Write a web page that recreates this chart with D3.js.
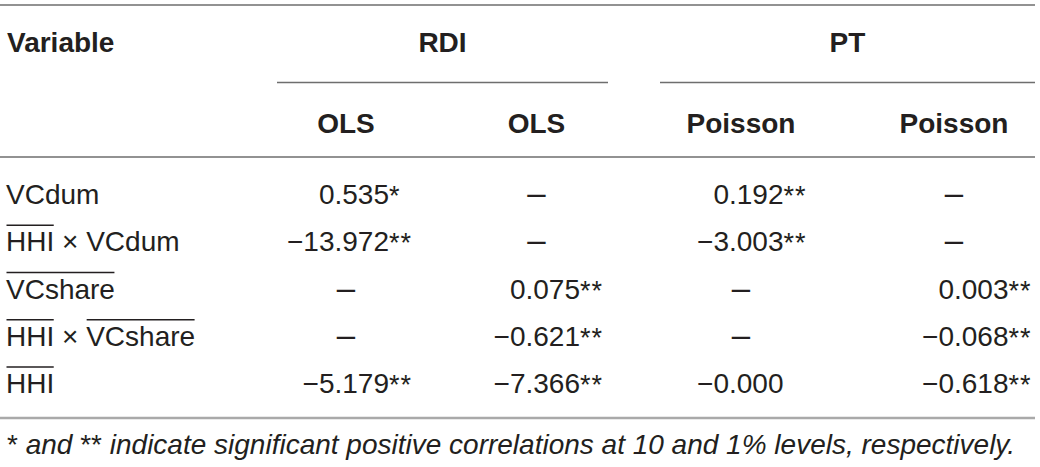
<!DOCTYPE html>
<html>
<head>
<meta charset="utf-8">
<script src="https://cdn.jsdelivr.net/npm/d3@7"></script>
<style>
  body { margin: 0; background: #fff; }
  svg text { font-family: "Liberation Sans", Arial, Helvetica, sans-serif; fill: #231f20; }
</style>
</head>
<body>
<div class="table"></div>
<script>
// header content
const stubTitle = 'Variable';
const groups = ['RDI', 'PT'];
const models = ['OLS', 'OLS', 'Poisson', 'Poisson'];
const modelGroup = ['RDI', 'RDI', 'PT', 'PT'];

// row labels, each piece: [text, overlined]
const variables = [
  [['VCdum', false]],
  [['HHI', true], [' × ', false], ['VCdum', false]],
  [['VCshare', true]],
  [['HHI', true], [' × ', false], ['VCshare', true]],
  [['HHI', true]]
];

// coefficients per model column (null = variable not in model)
const rdiOls1 = [0.535, -13.972, null, null, -5.179];
const rdiOls2 = [null, null, 0.075, -0.621, -7.366];
const ptPoisson1 = [0.192, -3.003, null, null, -0.000];
const ptPoisson2 = [null, null, 0.003, -0.068, -0.618];

// number of significance stars per cell
const rdiOls1Stars = [1, 2, 0, 0, 2];
const rdiOls2Stars = [0, 0, 2, 2, 2];
const ptPoisson1Stars = [2, 2, 0, 0, 0];
const ptPoisson2Stars = [0, 0, 2, 2, 2];

// footnote pieces: [text, isStar]
const note = [
  ['*', true],
  [' and ', false],
  ['**', true],
  [' indicate significant positive correlations at 10 and 1% levels, respectively.', false]
];

const columns = [rdiOls1, rdiOls2, ptPoisson1, ptPoisson2];
const stars = [rdiOls1Stars, rdiOls2Stars, ptPoisson1Stars, ptPoisson2Stars];

const dims = { width: 1040, height: 467, ruleEnd: 1035, fontSize: 28 };

const svg = d3.select('.table')
  .append('svg')
  .attr('width', dims.width)
  .attr('height', dims.height);

// layout scales
const colCenter = d3.scaleOrdinal()
  .domain(d3.range(models.length))
  .range([346, 536.5, 741, 954]);
const colDecimal = d3.scaleOrdinal()
  .domain(d3.range(models.length))
  .range([334.5, 525.5, 729, 954]);
const groupSpan = d3.scaleOrdinal()
  .domain(groups)
  .range([[277, 608], [660, dims.ruleEnd]]);
const y = d3.scalePoint()
  .domain(d3.range(variables.length))
  .range([204, 393]);

const fmt = d3.format('.3f');
const fmtNum = v => ((v < 0 || Object.is(v, -0)) ? '\u2212' : '') + fmt(Math.abs(v));

// horizontal rules
const rule = (x1, x2, yy, color, w) => svg.append('line')
  .attr('x1', x1).attr('x2', x2)
  .attr('y1', yy).attr('y2', yy)
  .attr('stroke', color)
  .attr('stroke-width', w);

rule(0, dims.ruleEnd, 5, '#6e6e6e', 1.5);
rule(0, dims.ruleEnd, 157, '#6e6e6e', 1.5);
rule(0, dims.ruleEnd, 418, '#a9a9a9', 2.5);
groups.forEach(g => {
  const [a, b] = groupSpan(g);
  rule(a, b, 82.5, '#6e6e6e', 1.5);
});

// header
const header = svg.append('g')
  .attr('font-size', dims.fontSize)
  .attr('font-weight', 'bold');

header.append('text')
  .attr('x', 7)
  .attr('y', 52)
  .text(stubTitle);

header.selectAll('text.group')
  .data(groups)
  .join('text')
  .attr('class', 'group')
  .attr('x', d => d3.mean(groupSpan(d)))
  .attr('y', 52)
  .attr('text-anchor', 'middle')
  .text(d => d);

header.selectAll('text.model')
  .data(models)
  .join('text')
  .attr('class', 'model')
  .attr('x', (d, i) => colCenter(i))
  .attr('y', 133)
  .attr('text-anchor', 'middle')
  .text(d => d);

// row labels with overlines
const labels = svg.append('g')
  .attr('font-size', dims.fontSize);

variables.forEach((parts, r) => {
  const t = labels.append('text')
    .attr('x', 6)
    .attr('y', y(r))
    .attr('xml:space', 'preserve');
  parts.forEach(p => t.append('tspan').text(p[0]));
  const node = t.node();
  let offset = 0;
  parts.forEach(p => {
    if (p[1]) {
      const x0 = 6 + (offset ? node.getSubStringLength(0, offset) : 0);
      const len = node.getSubStringLength(offset, p[0].length);
      labels.append('line')
        .attr('x1', x0 + 0.5)
        .attr('x2', x0 + len - 0.5)
        .attr('y1', y(r) - 26)
        .attr('y2', y(r) - 26)
        .attr('stroke', '#231f20')
        .attr('stroke-width', 1.5);
    }
    offset += p[0].length;
  });
});

// cells
const cells = svg.append('g')
  .attr('font-size', dims.fontSize);

columns.forEach((col, c) => {
  col.forEach((v, r) => {
    if (v === null) {
      cells.append('text')
        .attr('x', colCenter(c))
        .attr('y', y(r))
        .attr('text-anchor', 'middle')
        .attr('font-size', 33)
        .text('\u2013');
      return;
    }
    const s = fmtNum(v);
    const t = cells.append('text')
      .attr('x', 0)
      .attr('y', y(r));
    t.append('tspan').text(s);
    if (stars[c][r] > 0) {
      t.append('tspan')
        .attr('font-size', 27)
        .attr('dy', 1)
        .attr('letter-spacing', 1)
        .text('*'.repeat(stars[c][r]));
    }
    const intW = t.node().getSubStringLength(0, s.indexOf('.'));
    t.attr('x', colDecimal(c) - intW);
  });
});

// footnote
const foot = svg.append('text')
  .attr('x', 7)
  .attr('y', 454)
  .attr('font-size', 28)
  .attr('font-style', 'italic')
  .attr('xml:space', 'preserve');

note.forEach(p => {
  const ts = foot.append('tspan').text(p[0]);
  if (p[1]) ts.attr('font-style', 'normal');
});
</script>
</body>
</html>
